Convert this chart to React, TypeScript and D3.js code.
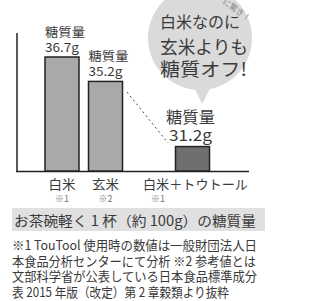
import React from "react";
import * as d3 from "d3";

const categories = ["白米", "玄米", "白米＋トウトール"];
const notes = ["※1", "※2", "※1"];
const values = [36.7, 35.2, 31.2];
const slots = [0, 1, 3];
const valueLabels = ["36.7g", "35.2g", "31.2g"];
const bubbleLines = ["白米なのに", "玄米よりも", "糖質オフ!"];
const caption = "お茶碗軽く 1 杯（約 100g）の糖質量";
const footnotes = [
  "※1 TouTool 使用時の数値は一般財団法人日",
  "本食品分析センターにて分析 ※2 参考値とは",
  "文部科学省が公表している日本食品標準成分",
  "表 2015 年版（改定）第 2 章穀類より抜粋",
];

const FONT = "'Noto Sans CJK JP', 'Noto Sans', sans-serif";
const TXT = "#3a3a3a";

export default function App() {
  const x = d3.scaleLinear().domain([0, 1]).range([62, 105.5]);
  const y = d3.scaleLinear().domain([29.7, 36.7]).range([171, 57]);
  const bw = 34;
  const fills = ["#a9a9a9", "#a9a9a9", "#6f6f6f"];

  const tail = d3.line()([
    [193, 85],
    [202, 104],
    [212, 85],
  ]);

  return (
    <svg
      width={323}
      height={301}
      style={{ position: "absolute", left: 0, top: 0, fontFamily: FONT }}
    >
      <rect x={0} y={0} width={323} height={301} fill="#fff" />
      {/* bubble */}
      <circle cx={200} cy={38} r={52} fill="#dadada" />
      <path d={tail!} fill="#dadada" />
      <text
        x={0}
        y={0}
        fontSize={8}
        fill="#888"
        transform="translate(222,3) rotate(35)"
      >
        に驚き！
      </text>
      {bubbleLines.map((t, i) => (
        <text
          key={i}
          x={160}
          y={[28, 54, 76][i]}
          fontSize={[16, 18.5, 18.5][i]}
          fill={TXT}
          textLength={[80, 88, 87][i]}
          lengthAdjust="spacingAndGlyphs"
        >
          {t}
        </text>
      ))}
      {/* dashed connector */}
      <line
        x1={127}
        y1={92}
        x2={168}
        y2={143}
        stroke="#444"
        strokeWidth={1}
        strokeDasharray="2,3"
      />
      {/* axes */}
      <line x1={17} y1={33} x2={17} y2={172} stroke="#222" strokeWidth={1.5} />
      <line x1={16} y1={171.5} x2={249} y2={171.5} stroke="#222" strokeWidth={1.5} />
      {/* bars */}
      {values.map((v, i) => {
        const cx = x(slots[i]);
        return (
          <rect
            key={i}
            x={cx - bw / 2}
            y={y(v)}
            width={bw}
            height={171 - y(v)}
            fill={fills[i]}
            stroke="#222"
            strokeWidth={1.5}
          />
        );
      })}
      {/* value labels */}
      {values.map((v, i) => {
        const cx = x(slots[i]);
        const big = i === 2;
        const fs = big ? 15.5 : 12.5;
        const top = y(v);
        return (
          <g key={i} fill={TXT}>
            <text
              x={big ? cx - 2 : cx - bw / 2}
              y={top - (big ? 24 : 20)}
              fontSize={fs}
              textAnchor={big ? "middle" : "start"}
              textLength={big ? 49 : 40}
              lengthAdjust="spacingAndGlyphs"
            >
              糖質量
            </text>
            <text
              x={big ? cx - 2 : cx - bw / 2}
              y={top - (big ? 6 : 5)}
              fontSize={fs}
              textAnchor={big ? "middle" : "start"}
              textLength={big ? 43 : 34}
              lengthAdjust="spacingAndGlyphs"
            >
              {valueLabels[i]}
            </text>
          </g>
        );
      })}
      {/* category labels */}
      {categories.map((c, i) => {
        const cx = i === 2 ? 195.5 : x(slots[i]);
        return (
          <g key={i}>
            <text
              x={cx}
              y={189}
              fontSize={13}
              fill={TXT}
              textAnchor="middle"
              textLength={i === 2 ? 105 : 27}
              lengthAdjust="spacingAndGlyphs"
            >
              {c}
            </text>
            <text
              x={i === 2 ? 158 : cx}
              y={202}
              fontSize={9}
              fill="#777"
              textAnchor="middle"
            >
              {notes[i]}
            </text>
          </g>
        );
      })}
      {/* caption */}
      <rect x={12} y={208} width={253} height={23} fill="#e0e0e0" />
      <text
        x={14}
        y={226}
        fontSize={14}
        fill={TXT}
        textLength={242}
        lengthAdjust="spacingAndGlyphs"
      >
        {caption}
      </text>
      {footnotes.map((t, i) => (
        <text
          key={i}
          x={12}
          y={250 + i * 15.5}
          fontSize={13}
          fill={TXT}
          textLength={[245, 244, 245, 217][i]}
          lengthAdjust="spacingAndGlyphs"
        >
          {t}
        </text>
      ))}
    </svg>
  );
}
